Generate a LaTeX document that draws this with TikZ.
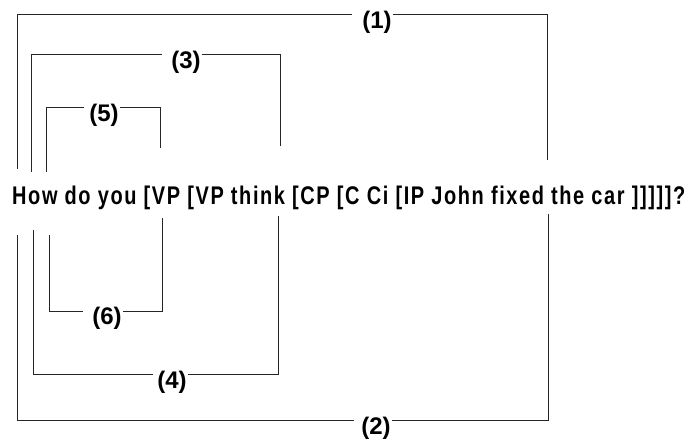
\documentclass[tikz,border=0pt]{standalone}
\usepackage{fontspec}
\setmainfont{Liberation Sans}
\newfontfamily\spacedfont[LetterSpace=8]{Liberation Sans}
\usepackage{graphicx}
\usetikzlibrary{calc}
\begin{document}
\begin{tikzpicture}[x=1pt,y=-1pt,
  br/.style={draw=black!85,line width=1pt},
  lab/.style={inner sep=0pt,font=\bfseries\fontsize{24}{24}\selectfont}]
\useasboundingbox (0,0) rectangle (689,440);
\node[anchor=base west,inner sep=0pt] (s) at (12,204)
  {\resizebox{673pt}{18.5pt}{\spacedfont\bfseries How do you [VP [VP think [CP [C Ci [IP John fixed the car ]]]]]?}};
% labels
\node[lab] (n1) at (377,22) {(1)};
\node[lab] (n3) at (186,62) {(3)};
\node[lab] (n5) at (104,115) {(5)};
\node[lab] (n6) at (107,318) {(6)};
\node[lab] (n4) at (172,382) {(4)};
\node[lab] (n2) at (376,428) {(2)};
% end points and corners
\coordinate (a1) at (17,169); \coordinate (c1) at (17,14);  \coordinate (d1) at (547,160);
\coordinate (a3) at (31,172); \coordinate (c3) at (31,54);  \coordinate (d3) at (280,146);
\coordinate (a5) at (46,172); \coordinate (c5) at (46,107); \coordinate (d5) at (160,148);
\coordinate (a2) at (17,235); \coordinate (c2) at (17,420); \coordinate (d2) at (548,214);
\coordinate (a4) at (33,230); \coordinate (c4) at (33,374); \coordinate (d4) at (278,216);
\coordinate (a6) at (49,235); \coordinate (c6) at (49,311); \coordinate (d6) at (162,218);
% brackets
\foreach \i/\g in {1/10,3/9,5/5,2/7,4/4,6/9}{
  \draw[br] (a\i) -- (c\i) -- ($(n\i.west|-c\i)+(-\g,0)$);
  \draw[br] ($(n\i.east|-c\i)+(1,0)$) -| (d\i);
}
\end{tikzpicture}
\end{document}
